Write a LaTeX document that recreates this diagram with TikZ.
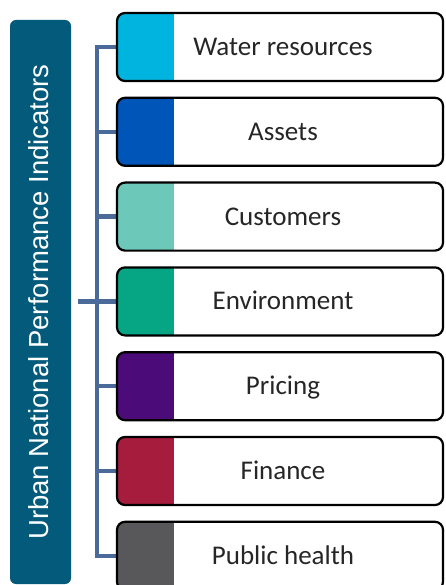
\documentclass[tikz,border=0pt]{standalone}
\usepackage{fontspec}
\setmainfont{Carlito}
\newfontfamily\arialf{Liberation Sans}
\usetikzlibrary{backgrounds}
\definecolor{titlebg}{HTML}{045A7A}
\definecolor{connc}{HTML}{4A6A9A}
\definecolor{cWater}{HTML}{00B4E0}
\definecolor{cAssets}{HTML}{0055B8}
\definecolor{cCust}{HTML}{6CC9B9}
\definecolor{cEnv}{HTML}{06A685}
\definecolor{cPrice}{HTML}{4B0C7A}
\definecolor{cFin}{HTML}{A61C3C}
\definecolor{cHealth}{HTML}{58585A}
\definecolor{txtc}{HTML}{262626}
\tikzset{
  leftbox/.style={rectangle, rounded corners=6pt, fill=titlebg, minimum width=61pt, minimum height=564pt, inner sep=0pt},
  titletext/.style={rotate=90, anchor=base, text=white, inner sep=0pt, font=\arialf\fontsize{27.5}{30}\selectfont},
  itembox/.style={rectangle, rounded corners=8pt, draw=black, line width=2.2pt, fill=white, minimum width=326pt, minimum height=68pt, inner sep=0pt,
    path picture={\fill[#1, sharp corners] (path picture bounding box.north west) rectangle ([xshift=57pt]path picture bounding box.south west);}},
  itemtext/.style={anchor=base, text=txtc, inner sep=0pt, font=\fontsize{27}{30}\selectfont},
  conn/.style={draw=connc, line width=4.5pt, line join=miter}
}
\begin{document}
\begin{tikzpicture}[x=1pt,y=-1pt]
\useasboundingbox (0,0) rectangle (445,585);
\node[leftbox] (lb) at (40.5,302) {};
\node[titletext] (title) at (48,302) {Urban National Performance Indicators};
\foreach \i/\c/\t in {1/cWater/Water resources, 2/cAssets/Assets, 3/cCust/Customers, 4/cEnv/Environment, 5/cPrice/Pricing, 6/cFin/Finance, 7/cHealth/Public health}{
  \pgfmathsetmacro{\yc}{47+84.8*(\i-1)}
  \node[itembox=\c] (b\i) at (280,\yc) {};
  \node[itemtext] (t\i) at (283,\yc+8.5) {\t};
}
\coordinate (spine) at (97,0);
\coordinate (stubl) at (78,301.4);
\begin{scope}[on background layer]
\draw[conn] (b1.west) -- (spine |- b1.west) -- (spine |- b7.west) -- (b7.west);
\foreach \i in {2,...,6}{
  \draw[conn] (spine |- b\i.west) -- (b\i.west);
}
\draw[conn] (stubl) -- (spine |- stubl);
\end{scope}
\end{tikzpicture}
\end{document}
